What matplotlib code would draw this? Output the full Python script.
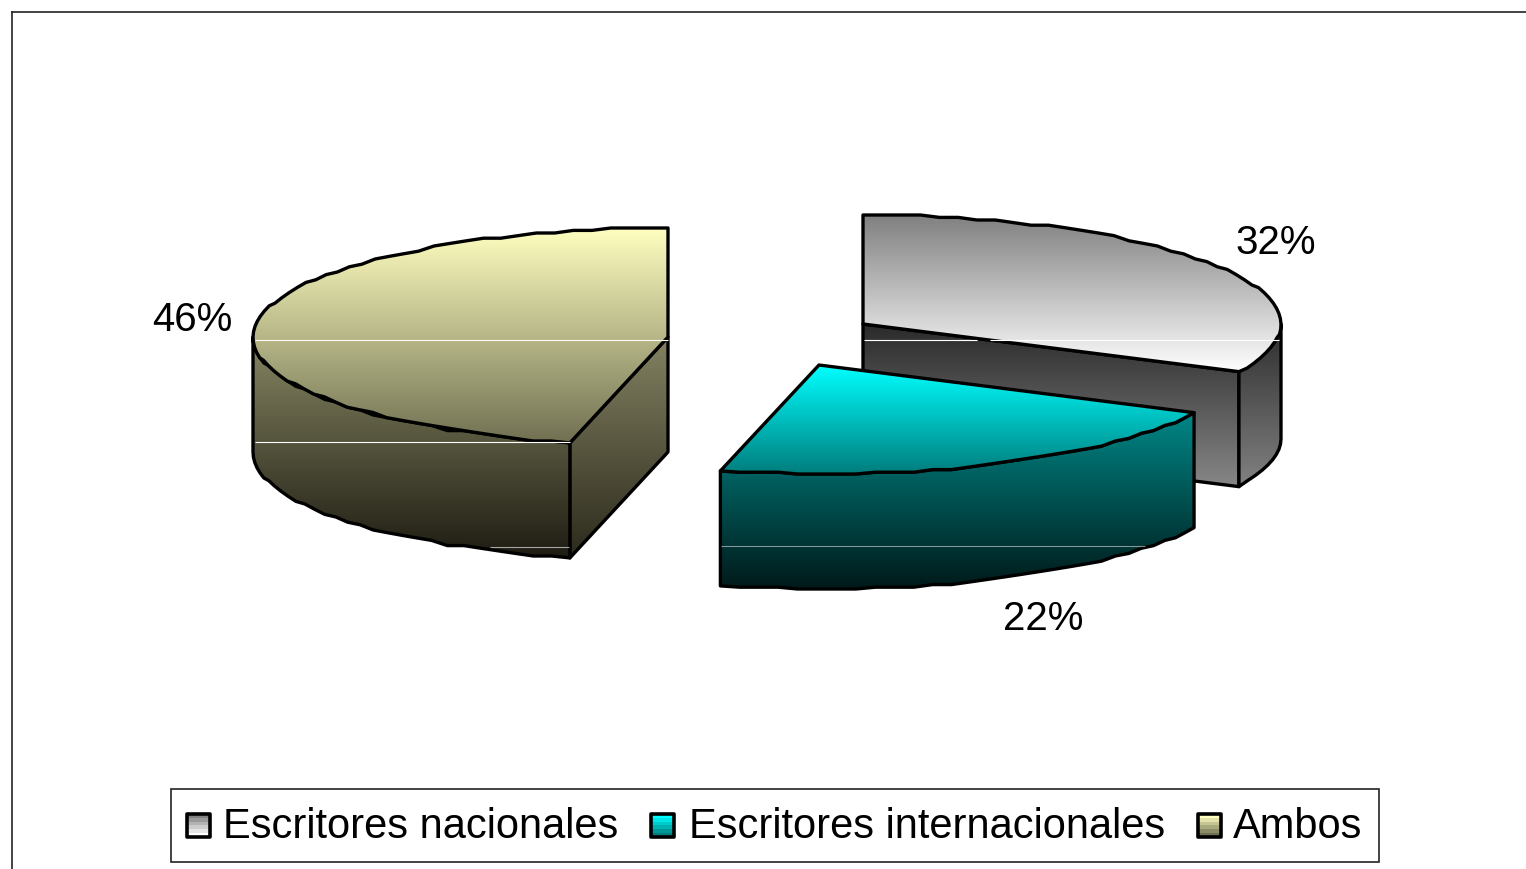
import numpy as np
import matplotlib
matplotlib.use("Agg")
import matplotlib.pyplot as plt
from matplotlib.colors import LinearSegmentedColormap
from matplotlib.patches import Polygon, Rectangle

# Data (unrounded estimates; labels show them rounded)
categories = ["Escritores nacionales", "Escritores internacionales", "Ambos"]
shares = [32.2, 21.6, 46.2]

# Styles and layout, in pixels
plt.rcParams["font.family"] = ["Liberation Sans", "DejaVu Sans"]
W, H = 1526, 870
RADII_X = [418, 417, 415]
RY, DEPTH = 109, 115
centers = [(863, 325), (819, 366), (668, 338)]
top_grad = [((128,128,128),(255,255,255)), ((0,255,255),(0,125,125)), ((255,255,192),(112,112,82))]
wall_grad = [((45,45,45),(130,130,130)), ((0,135,135),(0,25,25)), ((135,135,100),(30,28,18))]
radial_grad = [((42,42,42),(135,135,135)), ((0,135,135),(0,25,25)), ((132,130,98),(44,42,28))]
label_pos = [(1276, 243), (1043, 619), (192, 320)]
legend_swatch_x = [187, 651, 1198]
legend_text_x = [223, 689, 1233]

fig = plt.figure(figsize=(W/100, H/100), dpi=100)
ax = fig.add_axes([0, 0, 1, 1])
ax.set_axis_off()

def arc(c, rx, a0, a1, dy=0, step=2.6):
    """Elliptical arc with clockwise angles from north, slightly stepped like the source."""
    n = max(3, int(abs(a1 - a0) / 2.6) + 1)
    t = np.radians(np.linspace(a0, a1, n))
    x = c[0] + rx * np.sin(t)
    y = c[1] - RY * np.cos(t)
    ys = np.clip(np.round(y / step) * step, c[1] - RY, c[1] + RY)
    ys[0], ys[-1] = y[0], y[-1]
    return np.column_stack([x, ys + dy])

def paint(points, colors, zorder, lw=2.4, levels=256):
    points = np.asarray(points)
    y0, y1 = points[:, 1].min(), points[:, 1].max()
    c0, c1 = np.array(colors[0]) / 255, np.array(colors[1]) / 255
    cmap = LinearSegmentedColormap.from_list("g", [c0, c1])
    im = ax.imshow(np.linspace(0, 1, levels)[:, None], cmap=cmap, aspect="auto",
                   extent=(points[:, 0].min(), points[:, 0].max(), y1, y0),
                   origin="upper", zorder=zorder,
                   interpolation="bilinear" if levels > 16 else "nearest")
    poly = Polygon(points, closed=True, facecolor="none", edgecolor="black",
                   linewidth=lw, joinstyle="round", zorder=zorder + 0.1)
    ax.add_patch(poly)
    im.set_clip_path(poly)

ends = np.cumsum(shares) / sum(shares) * 360
starts = np.concatenate([[0], ends[:-1]])

draw_order = [0, 2, 1]
for k, i in enumerate(draw_order):
    c, a0, a1, rx = centers[i], starts[i], ends[i], RADII_X[i]
    z = 2 + k
    # radial cut face that looks toward the viewer
    if i != 1:
        e = arc(c, rx, a1 if i == 0 else a0, a1 if i == 0 else a0)[0]
        paint([c, e, (e[0], e[1] + DEPTH), (c[0], c[1] + DEPTH)], radial_grad[i], z)
    # outer wall: front half of the ellipse only
    w0, w1 = max(a0, 90), min(a1, 270)
    top = arc(c, rx, w0, w1)
    paint(np.vstack([top, arc(c, rx, w0, w1, dy=DEPTH)[::-1]]), wall_grad[i], z + 0.2)
    # top face
    paint(np.vstack([[c], arc(c, rx, a0, a1)]), top_grad[i], z + 0.4)

# Thin light banding lines present in the source picture
band_lines = [(341, 864, 977, 1.0, 3), (341, 990, 1279, 1.0, 3),
              (341, 255, 668, 1.0, 5), (443, 255, 570, 1.0, 5), (548, 490, 569, 0.6, 5),
              (547, 721, 1145, 0.5, 5)]
for y, x0, x1, alpha, z in band_lines:
    ax.plot([x0, x1], [y, y], color="white", lw=0.8, alpha=alpha, zorder=z + 0.6,
            solid_capstyle="butt")

# Percentage labels
for (x, y), v in zip(label_pos, shares):
    ax.text(x, y, f"{round(v):d}%", ha="center", va="center", fontsize=29, color="black", zorder=10)

# Legend
ax.add_patch(Rectangle((171, 790), 1208, 73, facecolor="white", edgecolor="#222222", lw=1.2, zorder=8))
for i, name in enumerate(categories):
    x = legend_swatch_x[i]
    paint([(x, 815), (x + 23, 815), (x + 23, 838), (x, 838)],
          (top_grad[i][0], top_grad[i][1]), 9, lw=2.6, levels=6)
    ax.text(legend_text_x[i], 838, name, ha="left", va="baseline", fontsize=30, color="black", zorder=10)

# Outer frame that runs off the page to the right and bottom
ax.plot([12, 12], [H + 5, 13], color="#222222", lw=1.2, zorder=1)
ax.plot([12, W + 5], [13, 13], color="#222222", lw=1.2, zorder=1)

ax.set_xlim(0, W)
ax.set_ylim(H, 0)
fig.savefig("out.png", dpi=100, facecolor="white")
